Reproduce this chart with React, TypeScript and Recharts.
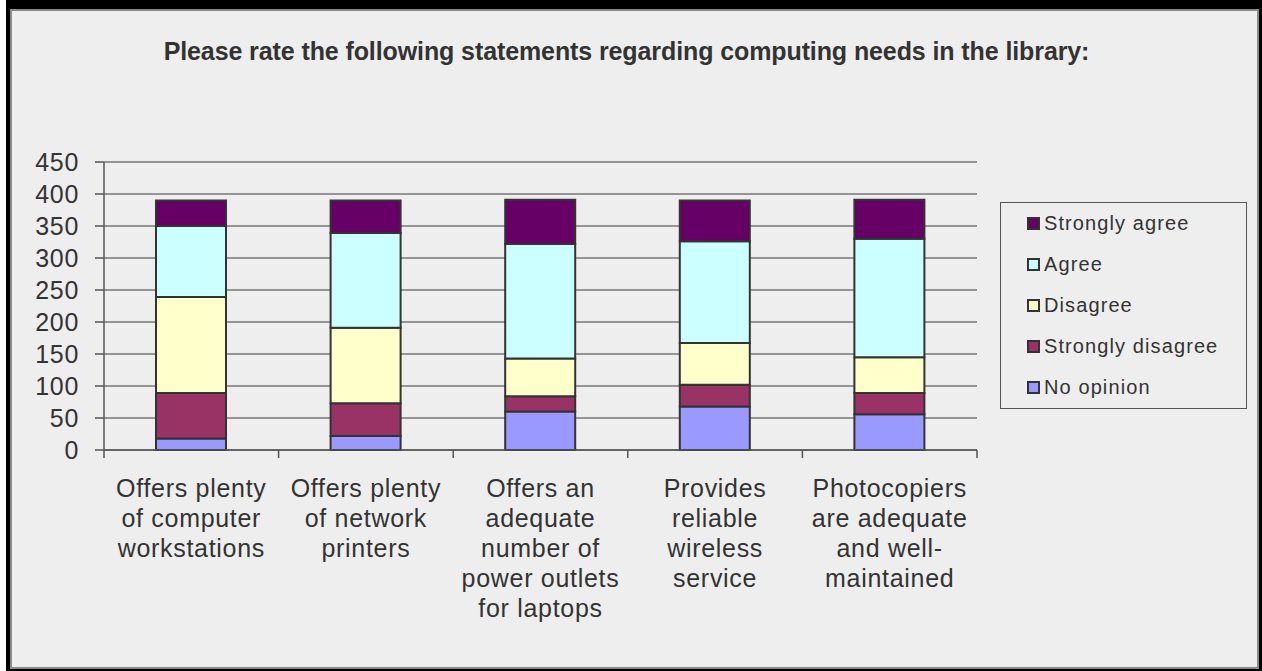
import { BarChart, Bar, XAxis, YAxis, CartesianGrid, Legend } from 'recharts';

// statements (line breaks as in the original axis labels)
const categories = [
  'Offers plenty\nof computer\nworkstations',
  'Offers plenty\nof network\nprinters',
  'Offers an\nadequate\nnumber of\npower outlets\nfor laptops',
  'Provides\nreliable\nwireless\nservice',
  'Photocopiers\nare adequate\nand well-\nmaintained',
];

// response counts
const noOpinion = [18, 22, 60, 68, 56];
const stronglyDisagree = [71, 51, 24, 34, 33];
const disagree = [150, 118, 59, 65, 56];
const agree = [111, 148, 179, 159, 185];
const stronglyAgree = [40, 51, 69, 64, 61];

const yTicks = [0, 50, 100, 150, 200, 250, 300, 350, 400, 450];

// bottom of the stack first
const series = [
  { key: 'noOpinion', name: 'No opinion', color: '#9999FF', values: noOpinion },
  { key: 'stronglyDisagree', name: 'Strongly disagree', color: '#993366', values: stronglyDisagree },
  { key: 'disagree', name: 'Disagree', color: '#FFFFCC', values: disagree },
  { key: 'agree', name: 'Agree', color: '#CCFFFF', values: agree },
  { key: 'stronglyAgree', name: 'Strongly agree', color: '#660066', values: stronglyAgree },
];

const data = categories.map((category, i) => {
  const row: Record<string, string | number> = { category };
  series.forEach((s) => {
    row[s.key] = s.values[i];
  });
  return row;
});

const FONT = '"Liberation Sans", Arial, sans-serif';
const PLOT_WIDTH = 873;
const HALF_BAND = PLOT_WIDTH / categories.length / 2;

const CategoryTick = (props: any) => {
  const { x, y, payload, index } = props;
  const lines = String(payload.value).split('\n');
  return (
    <g>
      {index === 0 && (
        <line x1={x - HALF_BAND} x2={x - HALF_BAND} y1={y - 8} y2={y} stroke="#555" strokeWidth={1.5} />
      )}
      <line x1={x + HALF_BAND} x2={x + HALF_BAND} y1={y - 8} y2={y} stroke="#555" strokeWidth={1.5} />
      <text
        x={x}
        y={y + 39}
        textAnchor="middle"
        fill="#333"
        style={{ fontFamily: FONT, fontSize: 25, letterSpacing: 0.7 }}
      >
        {lines.map((line, i) => (
          <tspan key={i} x={x} dy={i === 0 ? 0 : 30}>
            {line}
          </tspan>
        ))}
      </text>
    </g>
  );
};

// legend lists the top of the stack first, like the original
const renderLegend = () => {
  const items = [...series].reverse();
  return (
    <div
      style={{
        width: 247,
        height: 207,
        boxSizing: 'border-box',
        border: '1px solid #555',
        background: '#eeeeee',
        paddingLeft: 26,
        display: 'flex',
        flexDirection: 'column',
      }}
    >
      {items.map((item) => (
        <div key={item.key} style={{ flex: 1, display: 'flex', alignItems: 'center' }}>
          <span
            style={{
              display: 'inline-block',
              width: 13,
              height: 13,
              boxSizing: 'border-box',
              border: '2px solid #333',
              background: item.color,
              marginRight: 4,
            }}
          />
          <span style={{ fontFamily: FONT, fontSize: 20, letterSpacing: 1.1, color: '#333' }}>{item.name}</span>
        </div>
      ))}
    </div>
  );
};

export default function App() {
  return (
    <div style={{ position: 'absolute', left: 0, top: 0, width: 1262, height: 671, background: '#fff' }}>
      <div
        style={{
          position: 'absolute',
          left: 6,
          top: 0,
          width: 1256,
          height: 671,
          boxSizing: 'border-box',
          borderStyle: 'solid',
          borderColor: '#000',
          borderWidth: '9px 3px 2px 4px',
        }}
      >
        <div
          style={{
            width: '100%',
            height: '100%',
            boxSizing: 'border-box',
            border: '2px solid #8a8a8a',
            background: '#eeeeee',
          }}
        />
      </div>
      <div
        style={{
          position: 'absolute',
          left: 0,
          top: 39,
          width: 1253,
          textAlign: 'center',
          fontFamily: FONT,
          fontWeight: 'bold',
          fontSize: 25,
          lineHeight: '25px',
          color: '#333',
          letterSpacing: -0.1,
        }}
      >
        Please rate the following statements regarding computing needs in the library:
      </div>
      <div style={{ position: 'absolute', left: 0, top: 0 }}>
        <BarChart
          width={1262}
          height={671}
          data={data}
          margin={{ top: 162, right: 285, bottom: 71, left: 24 }}
          barSize={70}
        >
          <CartesianGrid vertical={false} stroke="#777" strokeWidth={1.5} />
          <XAxis
            dataKey="category"
            height={150}
            interval={0}
            tickLine={false}
            tickSize={8}
            tickMargin={0}
            axisLine={{ stroke: '#555', strokeWidth: 1.5 }}
            tick={<CategoryTick />}
          />
          <YAxis
            width={80}
            domain={[0, 450]}
            ticks={yTicks}
            interval={0}
            tickSize={9}
            tickMargin={16}
            axisLine={{ stroke: '#555', strokeWidth: 1.5 }}
            tickLine={{ stroke: '#555', strokeWidth: 1.5 }}
            tick={{ fill: '#333', fontSize: 25, fontFamily: FONT, letterSpacing: 0.7 }}
          />
          <Legend
            layout="vertical"
            align="center"
            verticalAlign="middle"
            content={renderLegend}
            wrapperStyle={{ position: 'absolute', left: 1000, top: 202, width: 247, height: 207 }}
          />
          {series.map((s) => (
            <Bar
              key={s.key}
              dataKey={s.key}
              name={s.name}
              stackId="a"
              fill={s.color}
              stroke="#333"
              strokeWidth={2}
              isAnimationActive={false}
            />
          ))}
        </BarChart>
      </div>
    </div>
  );
}
